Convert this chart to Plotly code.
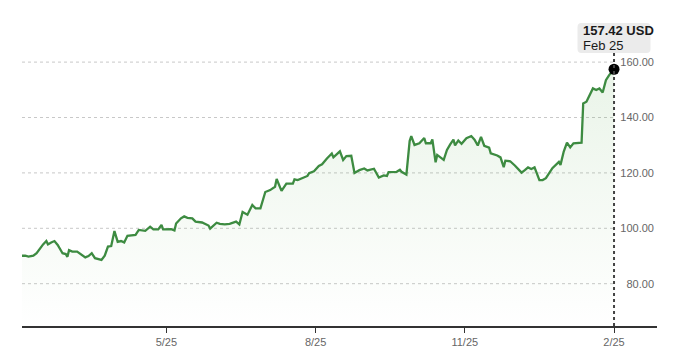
import plotly.graph_objects as go

dates = [
    "2025-02-25", "2025-02-27", "2025-03-01", "2025-03-04", "2025-03-06", "2025-03-08", "2025-03-10",
    "2025-03-12", "2025-03-13", "2025-03-15", "2025-03-17", "2025-03-19", "2025-03-22", "2025-03-24",
    "2025-03-25", "2025-03-26", "2025-03-28", "2025-03-31", "2025-04-05", "2025-04-07", "2025-04-09",
    "2025-04-11", "2025-04-14", "2025-04-15", "2025-04-17", "2025-04-19", "2025-04-21", "2025-04-23",
    "2025-04-25", "2025-04-27", "2025-04-29", "2025-05-01", "2025-05-06", "2025-05-08", "2025-05-12",
    "2025-05-15", "2025-05-17", "2025-05-20", "2025-05-22", "2025-05-23", "2025-05-28", "2025-05-30",
    "2025-05-31", "2025-06-03", "2025-06-05", "2025-06-07", "2025-06-10", "2025-06-12", "2025-06-16",
    "2025-06-18", "2025-06-20", "2025-06-21", "2025-06-23", "2025-06-25", "2025-06-27", "2025-06-30",
    "2025-07-03", "2025-07-05", "2025-07-07", "2025-07-09", "2025-07-11", "2025-07-14", "2025-07-17",
    "2025-07-19", "2025-07-22", "2025-07-25", "2025-07-28", "2025-07-31", "2025-08-01", "2025-08-04",
    "2025-08-07", "2025-08-11", "2025-08-12", "2025-08-14", "2025-08-17", "2025-08-20", "2025-08-21",
    "2025-08-24", "2025-08-27", "2025-08-29", "2025-09-01", "2025-09-04", "2025-09-05", "2025-09-09",
    "2025-09-11", "2025-09-13", "2025-09-16", "2025-09-18", "2025-09-21", "2025-09-24", "2025-09-26",
    "2025-09-30", "2025-10-03", "2025-10-06", "2025-10-08", "2025-10-09", "2025-10-14", "2025-10-16",
    "2025-10-17", "2025-10-20", "2025-10-22", "2025-10-23", "2025-10-25", "2025-10-28", "2025-10-31",
    "2025-11-01", "2025-11-04", "2025-11-05", "2025-11-07", "2025-11-08", "2025-11-12", "2025-11-14",
    "2025-11-16", "2025-11-18", "2025-11-19", "2025-11-21", "2025-11-23", "2025-11-26", "2025-11-29",
    "2025-12-01", "2025-12-03", "2025-12-05", "2025-12-07", "2025-12-10", "2025-12-11", "2025-12-15",
    "2025-12-17", "2025-12-19", "2025-12-20", "2025-12-23", "2025-12-26", "2025-12-30", "2026-01-01",
    "2026-01-03", "2026-01-05", "2026-01-07", "2026-01-10", "2026-01-12", "2026-01-14", "2026-01-18",
    "2026-01-22", "2026-01-23", "2026-01-25", "2026-01-27", "2026-01-29", "2026-01-31", "2026-02-05",
    "2026-02-06", "2026-02-08", "2026-02-09", "2026-02-12", "2026-02-14", "2026-02-16", "2026-02-18",
    "2026-02-20", "2026-02-22", "2026-02-25",
]
prices = [
    90.1, 90.1, 89.8, 90.1, 91.0, 92.8, 94.2,
    95.4, 94.2, 94.9, 95.4, 94.0, 91.0, 90.7,
    89.7, 92.1, 91.6, 91.6, 89.5, 90.0, 91.0,
    89.2, 88.6, 88.6, 90.1, 93.4, 93.6, 99.0,
    95.1, 95.4, 94.9, 97.3, 97.6, 99.4, 99.1,
    100.6, 99.6, 99.6, 101.2, 99.6, 99.7, 99.2,
    101.7, 103.6, 104.3, 103.8, 103.6, 102.4, 102.1,
    101.4, 101.0, 99.9, 101.0, 102.0, 101.6, 101.4,
    101.6, 102.0, 102.4, 101.4, 105.9, 104.9, 108.4,
    107.2, 107.2, 113.1, 113.8, 115.0, 117.8, 113.5,
    116.1, 116.1, 117.7, 117.4, 118.3, 118.9, 119.9,
    120.6, 122.5, 123.1, 125.2, 127.0, 125.6, 127.8,
    124.7, 126.1, 126.2, 120.0, 121.0, 121.6, 120.9,
    121.5, 118.3, 119.1, 118.9, 120.3, 120.4, 121.1,
    120.4, 119.4, 131.5, 133.3, 130.1, 130.7, 132.6,
    130.7, 130.7, 132.1, 123.8, 126.5, 124.7, 128.3,
    130.3, 132.0, 129.9, 131.7, 130.5, 132.5, 133.3,
    132.0, 129.9, 133.0, 129.8, 129.1, 127.1, 126.3,
    125.6, 122.1, 124.4, 124.2, 122.6, 120.1, 121.0,
    122.0, 121.4, 122.0, 117.4, 117.4, 118.1, 121.7,
    124.0, 122.9, 127.7, 130.9, 129.2, 130.7, 130.9,
    145.1, 145.7, 146.9, 150.5, 149.9, 150.5, 149.0,
    153.5, 155.3, 157.42,
]

x_tick_vals = ["2025-05-25", "2025-08-25", "2025-11-25", "2026-02-25"]
x_tick_text = ["5/25", "8/25", "11/25", "2/25"]
y_tick_vals = [80, 100, 120, 140, 160]
y_tick_text = ["80.00", "100.00", "120.00", "140.00", "160.00"]
last_label = "Feb 25"
currency = "USD"

LINE = "#3d8b41"
FONT = "Liberation Sans, Arial, sans-serif"

fig = go.Figure()
fig.add_trace(go.Scatter(
    x=dates, y=prices, mode="lines",
    line=dict(color=LINE, width=2.3),
    fill="tozeroy",
    fillgradient=dict(type="vertical", start=64, stop=158,
                      colorscale=[[0, "rgba(90,170,80,0)"], [1, "rgba(90,170,80,0.13)"]]),
    hoverinfo="skip", showlegend=False,
))
fig.add_trace(go.Scatter(
    x=[dates[-1]], y=[prices[-1]], mode="markers",
    marker=dict(color="black", size=11),
    hoverinfo="skip", showlegend=False,
))

# gridlines (end at last data point)
for v in y_tick_vals:
    fig.add_shape(type="line", xref="x", yref="y", x0=dates[0], x1=dates[-1], y0=v, y1=v,
                  line=dict(color="#c8c8c8", width=1, dash="dot"), layer="below")

# vertical dotted marker line
fig.add_shape(type="line", xref="x", yref="paper", x0=dates[-1], x1=dates[-1], y0=0, y1=0.955,
              line=dict(color="#444444", width=2, dash="dot"))

# tooltip box (rounded rect, pixel-sized, anchored at last point / plot top)
r = 4
x0, x1, y0, y1 = -36.5, 36.5, -13, 17
path = (f"M{x0+r},{y0} L{x1-r},{y0} Q{x1},{y0} {x1},{y0+r} L{x1},{y1-r} Q{x1},{y1} {x1-r},{y1} "
        f"L{x0+r},{y1} Q{x0},{y1} {x0},{y1-r} L{x0},{y0+r} Q{x0},{y0} {x0+r},{y0} Z")
fig.add_shape(type="path", xref="x", yref="paper", xsizemode="pixel", ysizemode="pixel",
              xanchor=dates[-1], yanchor=1, path=path,
              fillcolor="#ebebeb", line=dict(width=0), layer="above")

fig.add_annotation(
    x=dates[-1], xref="x", xanchor="left", xshift=-33,
    y=1.0315, yref="paper", yanchor="middle",
    text=f"<b>{prices[-1]:.2f} {currency}</b>", showarrow=False,
    font=dict(family=FONT, size=13, color="#1a1a1a"),
)
fig.add_annotation(
    x=dates[-1], xref="x", xanchor="left", xshift=-33,
    y=0.981, yref="paper", yanchor="middle",
    text=last_label, showarrow=False,
    font=dict(family=FONT, size=13, color="#1a1a1a"),
)

# page body has an 8px margin, so margins are offset to place the plot area
fig.update_layout(
    width=680, height=355,
    margin=dict(l=14, r=31, t=32, b=37, autoexpand=False),
    paper_bgcolor="white", plot_bgcolor="white",
    font=dict(family=FONT, size=11, color="#666666"),
    xaxis=dict(
        type="date", range=["2025-02-25", "2026-03-23 12:00"],
        tickvals=x_tick_vals, ticktext=x_tick_text,
        showgrid=False, zeroline=False, automargin=False,
        showline=True, linecolor="#333333", linewidth=1.5,
        ticks="outside", ticklen=5, tickcolor="#333333", tickwidth=1.2,
        tickfont=dict(size=11, color="#666666"),
    ),
    yaxis=dict(
        range=[64.73, 167.98], side="right", automargin=False,
        tickvals=y_tick_vals, ticktext=y_tick_text,
        ticklabelposition="inside", ticks="",
        showgrid=False, zeroline=False, showline=False,
        tickfont=dict(size=11, color="#666666"),
    ),
)

fig.write_html("out.html")
